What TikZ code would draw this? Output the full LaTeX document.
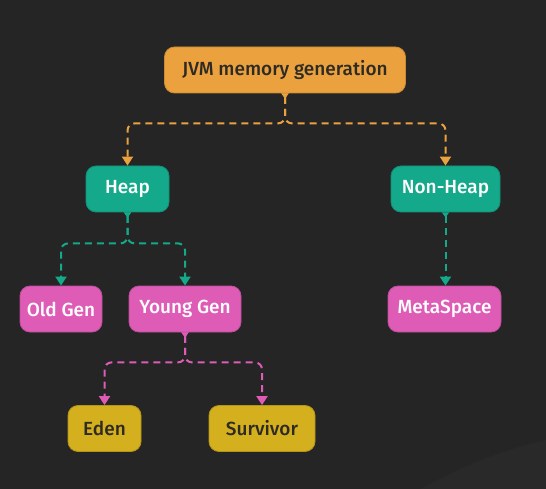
\documentclass[tikz,border=0pt]{standalone}
\usepackage{fontspec}
\setmainfont{Fira Sans}[UprightFont=* Medium]
\usepackage{tikz}
\usetikzlibrary{arrows.meta}

\definecolor{bgdark}{HTML}{252525}
\definecolor{bgcurve}{HTML}{292929}
\definecolor{jvmorange}{HTML}{EBA23E}
\definecolor{heapteal}{HTML}{14A98A}
\definecolor{genpink}{HTML}{DE5CB6}
\definecolor{edenyellow}{HTML}{D4AF1E}
\definecolor{darktext}{HTML}{2E2A24}

\begin{document}
\begin{tikzpicture}[
    x=1pt, y=-1pt,
    % Style for the rounded boxes
    box/.style={
        rounded corners=10pt,
        minimum height=46pt,
        inner xsep=4pt,
        line width=0.8pt,
        font=\fontsize{19}{21}\selectfont
    },
    % Style for the dashed connectors
    link/.style={
        line width=2pt,
        dash pattern=on 7pt off 5pt,
        rounded corners=7pt,
        {Triangle[reversed,length=5pt,width=7pt]}-{Triangle[length=9pt,width=11pt]}
    }
]

% --- Background ---
\fill[bgdark] (0,0) rectangle (546,489);
\fill[bgcurve] (420,489) .. controls (470,462) and (510,448) .. (546,440)
    -- (546,489) -- cycle;
\useasboundingbox (0,0) rectangle (546,489);

% --- Nodes ---
\node[box, fill=jvmorange, draw=jvmorange!85!black, text=darktext,
    minimum width=241pt] (jvm) at (285,70) {JVM memory generation};

\node[box, fill=heapteal, draw=heapteal!85!black, text=white,
    minimum width=83pt] (heap) at (127.5,189) {Heap};
\node[box, fill=heapteal, draw=heapteal!85!black, text=white,
    minimum width=109pt] (nonheap) at (445.5,189) {Non-Heap};

\node[box, fill=genpink, draw=genpink!85!black, text=white,
    minimum width=82pt] (oldgen) at (61,309) {Old Gen};
\node[box, fill=genpink, draw=genpink!85!black, text=white,
    minimum width=112pt] (younggen) at (185,309) {Young Gen};
\node[box, fill=genpink, draw=genpink!85!black, text=white,
    minimum width=113pt] (metaspace) at (444.5,309) {MetaSpace};

\node[box, fill=edenyellow, draw=edenyellow!85!black, text=darktext,
    minimum width=73pt] (eden) at (104.5,428.5) {Eden};
\node[box, fill=edenyellow, draw=edenyellow!85!black, text=darktext,
    minimum width=106pt] (survivor) at (262,428.5) {Survivor};

% --- Connectors: JVM -> Heap / Non-Heap ---
\draw[link, jvmorange] (jvm.south) -- ++(0,30) -| (heap.north);
\draw[link, jvmorange] (jvm.south) -- ++(0,30) -| (nonheap.north);

% --- Connectors: Heap -> generations ---
\draw[link, heapteal] (heap.south) -- ++(0,31) -| (oldgen.north);
\draw[link, heapteal] (heap.south) -- ++(0,31) -| (younggen.north);
\draw[link, heapteal] (nonheap.south) -- (metaspace.north -| nonheap.south);

% --- Connectors: Young Gen -> Eden / Survivor ---
\draw[link, genpink] (younggen.south) -- ++(0,30) -| (eden.north);
\draw[link, genpink] (younggen.south) -- ++(0,30) -| (survivor.north);

\end{tikzpicture}
\end{document}
